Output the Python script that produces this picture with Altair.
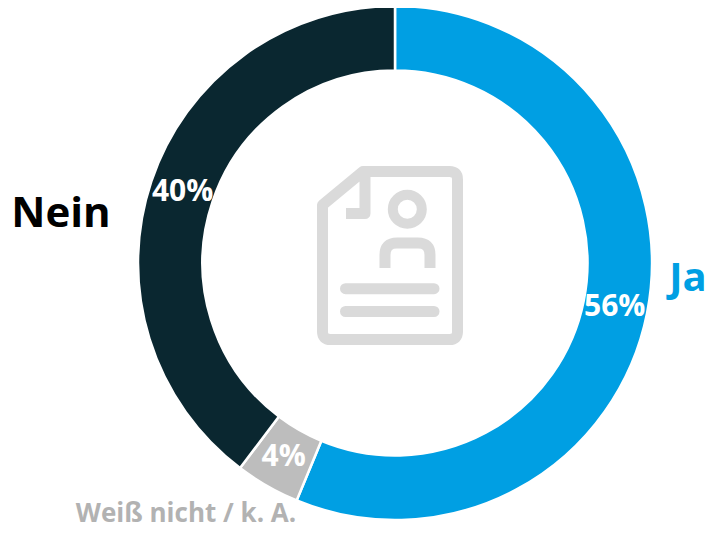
import altair as alt
import pandas as pd

categories = ["Ja", "Weiß nicht / k. A.", "Nein"]
values = [56.25, 4.05, 39.7]
labels = ["56%", "4%", "40%"]
colors = ["#009fe3", "#bdbdbd", "#0a2730"]
text_colors = ["#009fe3", "#b2b2b2", "#000000"]
order = [0, 1, 2]

df = pd.DataFrame({"cat": categories, "v": values, "lab": labels, "o": order})

W, H = 699, 523
CX, CY = 387, 255

theta = alt.Theta("v:Q", stack=True, scale=alt.Scale(domain=[0, 100], range=[0, 6.28318530718]))
base = alt.Chart(df).encode(
    theta=theta,
    order=alt.Order("o:Q"),
    x=alt.value(CX),
    y=alt.value(CY),
)
ring = base.mark_arc(outerRadius=257, innerRadius=192.5, stroke="#ffffff", strokeWidth=2.5).encode(
    color=alt.Color("cat:N", scale=alt.Scale(domain=categories, range=colors), legend=None)
)
pct = base.mark_text(radius=224, font="Open Sans", fontWeight="bold", fontSize=30, color="#ffffff").encode(
    text="lab:N"
)

# icon, normalised to a -1..1 box around its centre
IX, IY, IR = 390, 255.5, 90
def px(x, y):
    return f"{(x - IX) / IR:.4f} {(y - IY) / IR:.4f}"

page = (
    f"M{px(363, 171.5)} L{px(449.5, 171.5)} Q{px(457.5, 171.5)} {px(457.5, 179.5)} "
    f"L{px(457.5, 331.5)} Q{px(457.5, 339.5)} {px(449.5, 339.5)} "
    f"L{px(330.5, 339.5)} Q{px(322.5, 339.5)} {px(322.5, 331.5)} "
    f"L{px(322.5, 205)} Z"
)
fold = f"M{px(365, 171.5)} L{px(365, 213.5)} L{px(346, 213.5)}"
arch = (
    f"M{px(385, 268)} L{px(385, 255)} Q{px(385, 243)} {px(397, 243)} "
    f"L{px(418, 243)} Q{px(430, 243)} {px(430, 255)} L{px(430, 268)}"
)
r = 14.5 / IR
cx0, cy0 = (407.3 - IX) / IR, (209.3 - IY) / IR
circle = (
    f"M{cx0 - r:.4f} {cy0:.4f} A{r:.4f} {r:.4f} 0 1 0 {cx0 + r:.4f} {cy0:.4f} "
    f"A{r:.4f} {r:.4f} 0 1 0 {cx0 - r:.4f} {cy0:.4f} Z"
)
shapes = [
    (page + " " + fold + " " + arch, 11, "butt"),
    (circle, 10, "butt"),
    (f"M{px(345.5, 288.7)} L{px(434, 288.7)} M{px(345.5, 311.5)} L{px(434, 311.5)}", 11, "round"),
]
icon_layers = [
    alt.Chart(pd.DataFrame({"k": [1]})).mark_point(
        shape=s, size=(2 * IR) ** 2, filled=False, fill=None, stroke="#dadada",
        strokeWidth=w, strokeCap=c, strokeJoin="round", opacity=1,
    ).encode(x=alt.value(IX - 8), y=alt.value(IY - 8))
    for s, w, c in shapes
]

def outer(i, x, y, size):
    return alt.Chart(pd.DataFrame({"t": [categories[i]]})).mark_text(
        font="Open Sans", fontWeight="bold", fontSize=size, color=text_colors[i],
        align="center", baseline="middle",
    ).encode(text="t:N", x=alt.value(x - 8), y=alt.value(y - 8))

ja = outer(0, 688, 279, 40)
nein = outer(2, 61, 214, 42)
weiss = outer(1, 186, 514, 26)

chart = alt.layer(ring, *icon_layers, pct, ja, nein, weiss).properties(
    width=W, height=H, padding=0,
    autosize=alt.AutoSizeParams(type="none", contains="padding"), background="#ffffff",
).configure_view(stroke=None)

chart.save("out.html", embed_options={"renderer": "svg", "actions": False})
